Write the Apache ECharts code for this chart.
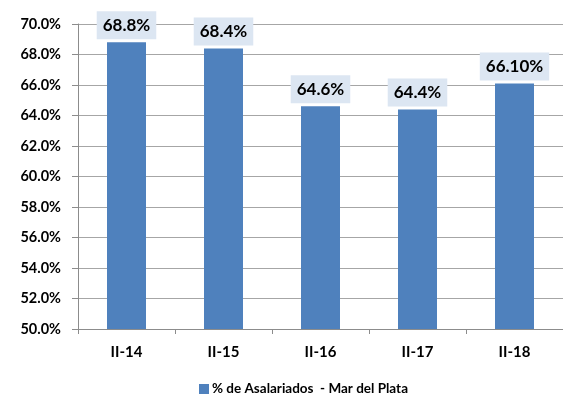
<!DOCTYPE html>
<html>
<head>
<meta charset="utf-8">
<script src="https://cdn.jsdelivr.net/npm/echarts@6/dist/echarts.min.js"></script>
<style>
  html, body { margin: 0; padding: 0; background: #ffffff; }
  #chart { width: 563px; height: 394px; }
</style>
</head>
<body>
<div id="chart"></div>
<script>
// Share of wage earners, Mar del Plata, second quarter of each year
const categories = ['II-14', 'II-15', 'II-16', 'II-17', 'II-18'];
const values = [68.8, 68.4, 64.6, 64.4, 66.1];
const valueLabels = ['68.8%', '68.4%', '64.6%', '64.4%', '66.10%'];
const seriesName = '% de Asalariados  - Mar del Plata';

const FONT = 'Lato, "Liberation Sans", sans-serif';

const chart = echarts.init(document.getElementById('chart'), null, { renderer: 'canvas' });

chart.setOption({
  animation: false,
  backgroundColor: '#ffffff',
  grid: { left: 78, right: -9, top: 24, bottom: 65, containLabel: false },
  legend: {
    data: [seriesName],
    left: 194,
    top: 377,
    itemWidth: 10,
    itemHeight: 10,
    itemGap: 3,
    icon: 'rect',
    textStyle: { fontFamily: FONT, fontWeight: 'bold', fontSize: 13.5, color: '#000000', padding: [0, 0, 0, -2] }
  },
  xAxis: {
    type: 'category',
    data: categories,
    boundaryGap: true,
    axisLine: { lineStyle: { color: '#8c8c8c', width: 1 } },
    axisTick: { show: true, length: 5, lineStyle: { color: '#8c8c8c' } },
    axisLabel: {
      margin: 16,
      fontFamily: FONT, fontWeight: 'bold', fontSize: 15, color: '#000000'
    }
  },
  yAxis: {
    type: 'value',
    min: 50,
    max: 70,
    interval: 2,
    axisLine: { show: true, lineStyle: { color: '#8c8c8c', width: 1 } },
    axisTick: { show: true, length: 6, lineStyle: { color: '#8c8c8c' } },
    splitLine: { show: true, lineStyle: { color: '#a6a6a6', width: 1 } },
    axisLabel: {
      margin: 17,
      fontFamily: FONT, fontWeight: 'bold', fontSize: 14.5, color: '#000000',
      formatter: v => v.toFixed(1) + '%'
    }
  },
  series: [{
    name: seriesName,
    type: 'bar',
    data: values,
    barWidth: 39,
    itemStyle: { color: '#4f81bd' },
    label: {
      show: true,
      position: 'top',
      distance: 3,
      formatter: p => valueLabels[p.dataIndex],
      fontFamily: FONT, fontWeight: 'bold', fontSize: 17, lineHeight: 19,
      color: '#000000',
      backgroundColor: '#dce6f2',
      padding: [5, 6, 4, 6]
    }
  }]
});
</script>
</body>
</html>
